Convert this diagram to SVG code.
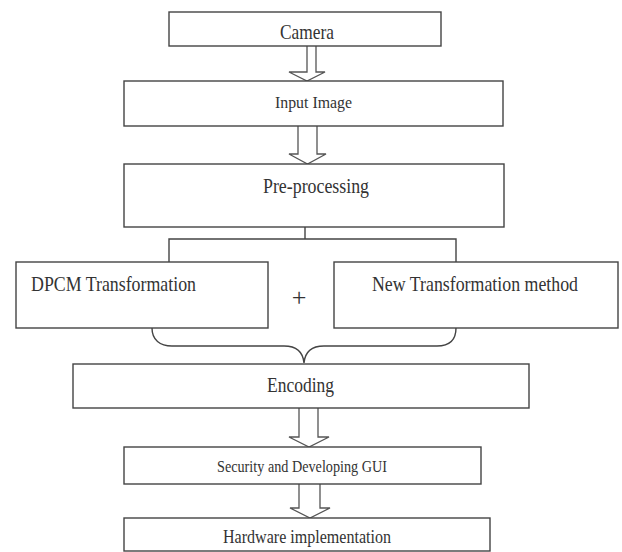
<svg xmlns="http://www.w3.org/2000/svg" width="622" height="552" viewBox="0 0 622 552">
<style>
.box{fill:#fff;stroke:#444;stroke-width:1.4}
.ln{fill:none;stroke:#444;stroke-width:1.4}
.arr{fill:#fff;stroke:#555;stroke-width:1.3;stroke-linejoin:miter}
text{font-family:"Liberation Serif","Times New Roman",serif;fill:#333}
.c{text-anchor:middle}
</style>
<rect width="622" height="552" fill="#fff"/>
<g id="connectors">
<path class="arr" d="M307,46 V72 H289 L307,81 L325,72 H316 V46"/>
<path class="arr" d="M298,126 V154 H289 L307.5,164 L326,154 H317 V126"/>
<path class="ln" d="M305,227 V239 M169,262 V239 H456 V262"/>
<path class="ln" d="M152,328 C152,340 160,346 172,346 L284,346 C296,346 303,352 304,363 C305,352 312,346 324,346 L437,346 C449,346 456,340 456,328"/>
<path class="arr" d="M299,408 V437 H289 L309,447 L329,437 H318 V408"/>
<path class="arr" d="M299,484 V508 H290 L310,518 L330,508 H320 V484"/>
</g>
<g id="camera"><rect class="box" x="169" y="12" width="272" height="34"/><text class="c" x="307" y="39" font-size="21" textLength="54" lengthAdjust="spacingAndGlyphs">Camera</text></g>
<g id="input"><rect class="box" x="124" y="81" width="379" height="45"/><text class="c" x="313.5" y="108" font-size="17" textLength="77" lengthAdjust="spacingAndGlyphs">Input Image</text></g>
<g id="preprocessing"><rect class="box" x="124" y="164" width="380" height="63"/><text class="c" x="316" y="193" font-size="21" textLength="106" lengthAdjust="spacingAndGlyphs">Pre-processing</text></g>
<g id="dpcm"><rect class="box" x="16" y="262" width="252" height="66"/><text x="31" y="291" font-size="21" textLength="165" lengthAdjust="spacingAndGlyphs">DPCM Transformation</text></g>
<g id="plus"><text class="c" x="299" y="306" font-size="26">+</text></g>
<g id="newmethod"><rect class="box" x="334" y="262" width="284" height="66"/><text x="372" y="291" font-size="21" textLength="206" lengthAdjust="spacingAndGlyphs">New Transformation method</text></g>
<g id="encoding"><rect class="box" x="73" y="364" width="456" height="44"/><text class="c" x="300.5" y="392" font-size="20" textLength="67" lengthAdjust="spacingAndGlyphs">Encoding</text></g>
<g id="security"><rect class="box" x="124" y="447" width="357" height="37"/><text class="c" x="302" y="472" font-size="17" textLength="170" lengthAdjust="spacingAndGlyphs">Security and Developing GUI</text></g>
<g id="hardware"><rect class="box" x="124" y="518" width="366" height="33"/><text class="c" x="307" y="543" font-size="18" textLength="168" lengthAdjust="spacingAndGlyphs">Hardware implementation</text></g>
</svg>
